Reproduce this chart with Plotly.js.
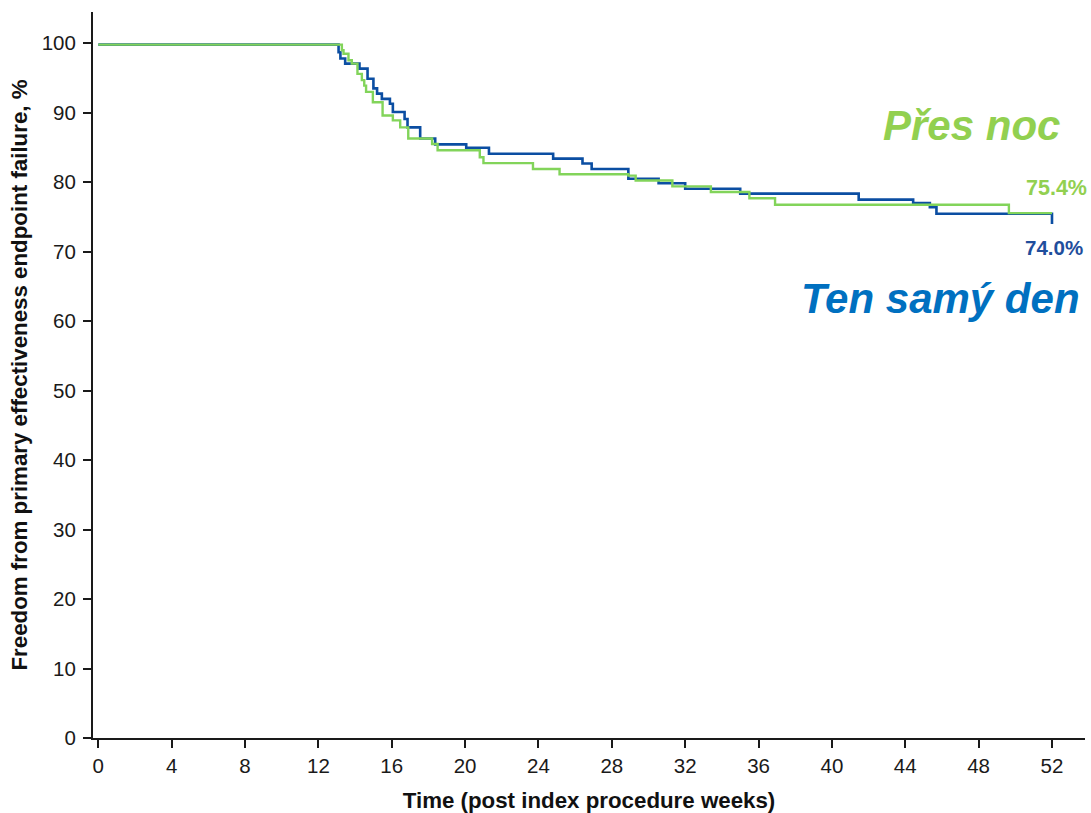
<!DOCTYPE html>
<html>
<head>
<meta charset="utf-8">
<script src="https://cdn.plot.ly/plotly-3.0.1.min.js"></script>
<style>html,body{margin:0;padding:0;background:#fff;}#chart{width:1091px;height:813px;}</style>
</head>
<body>
<div id="chart"></div>
<script>
// Ten samý den (same day) - Kaplan-Meier step points (weeks, %)
const sameDayWeeks = [0, 13.1, 13.2, 13.46, 14.24, 14.68, 15.0, 15.2, 15.46, 15.9, 16.06, 16.7, 16.86, 17.55, 18.37, 20.06, 21.3, 24.8, 26.4, 26.9, 28.9, 30.55, 32.0, 35.0, 41.46, 44.43, 45.34, 45.7, 52];
const sameDayValues = [99.8, 98.7, 97.8, 97.07, 96.35, 94.9, 93.5, 92.75, 92.0, 91.3, 90.1, 89.1, 87.9, 86.3, 85.45, 84.96, 84.1, 83.4, 82.7, 81.9, 80.5, 79.85, 79.06, 78.35, 77.5, 77.0, 76.4, 75.45, 74.0];

// Přes noc (overnight)
const overnightWeeks = [0, 13.28, 13.37, 13.64, 13.82, 14.13, 14.37, 14.5, 14.6, 14.97, 15.5, 16.06, 16.46, 16.9, 18.2, 18.5, 20.8, 21.0, 23.7, 25.15, 28.9, 29.3, 31.3, 33.4, 35.5, 36.9, 49.65, 52];
const overnightValues = [99.8, 99.0, 98.5, 97.55, 97.07, 95.6, 94.7, 93.9, 93.0, 91.5, 89.6, 88.9, 87.9, 86.3, 85.5, 84.6, 83.6, 82.75, 81.9, 81.15, 80.95, 80.25, 79.4, 78.6, 77.7, 76.75, 75.55, 75.55];

const xTicks = [0, 4, 8, 12, 16, 20, 24, 28, 32, 36, 40, 44, 48, 52];
const yTicks = [0, 10, 20, 30, 40, 50, 60, 70, 80, 90, 100];

const labelOvernight = "Přes noc";
const labelSameDay = "Ten samý den";
const finalOvernight = "75.4%";
const finalSameDay = "74.0%";

const FONT = "Liberation Sans, Arial, sans-serif";

const traces = [
  {x: sameDayWeeks, y: sameDayValues, type: 'scatter', mode: 'lines',
   line: {shape: 'hv', color: '#0b4ea2', width: 2.6}, name: labelSameDay, hoverinfo: 'x+y'},
  {x: overnightWeeks, y: overnightValues, type: 'scatter', mode: 'lines',
   line: {shape: 'hv', color: '#82d45a', width: 2.4}, name: labelOvernight, hoverinfo: 'x+y'}
];

const layout = {
  width: 1091, height: 813,
  margin: {l: 93, r: 6, t: 12, b: 75},
  paper_bgcolor: '#fff', plot_bgcolor: '#fff',
  showlegend: false,
  font: {family: FONT, color: '#1a1a1a', size: 20},
  xaxis: {
    range: [-0.29, 53.8], tickvals: xTicks, ticktext: xTicks.map(String),
    ticks: 'outside', ticklen: 8, tickwidth: 2, tickcolor: '#1a1a1a',
    showline: true, linecolor: '#1a1a1a', linewidth: 2,
    showgrid: false, zeroline: false,
    tickfont: {family: FONT, size: 20.5, color: '#1a1a1a'},
    title: {text: 'Time (post index procedure weeks)', font: {family: FONT, size: 22.3, color: '#111', weight: 'bold'}, standoff: 17}
  },
  yaxis: {
    range: [0, 104.5], tickvals: yTicks, ticktext: yTicks.map(String),
    ticks: 'outside', ticklen: 8, tickwidth: 2, tickcolor: '#1a1a1a',
    showline: true, linecolor: '#1a1a1a', linewidth: 2,
    showgrid: false, zeroline: false, ticklabelstandoff: 3,
    tickfont: {family: FONT, size: 20.5, color: '#1a1a1a'},
    title: {text: 'Freedom from primary effectiveness endpoint failure, %', font: {family: FONT, size: 22.3, color: '#111', weight: 'bold'}, standoff: 8}
  },
  annotations: [
    {xref: 'paper', yref: 'paper', x: 0.977, y: 0.844, xanchor: 'right', yanchor: 'middle', showarrow: false,
     text: '<b><i>' + labelOvernight + '</i></b>', font: {family: FONT, size: 42, color: '#92d050'}},
    {xref: 'paper', yref: 'paper', x: 1.004, y: 0.758, xanchor: 'right', yanchor: 'middle', showarrow: false,
     text: '<b>' + finalOvernight + '</b>', font: {family: FONT, size: 21.5, color: '#92d050'}},
    {xref: 'paper', yref: 'paper', x: 1.0, y: 0.676, xanchor: 'right', yanchor: 'middle', showarrow: false,
     text: '<b>' + finalSameDay + '</b>', font: {family: FONT, size: 20.5, color: '#1f4e9c'}},
    {xref: 'paper', yref: 'paper', x: 0.997, y: 0.606, xanchor: 'right', yanchor: 'middle', showarrow: false,
     text: '<b><i>' + labelSameDay + '</i></b>', font: {family: FONT, size: 42, color: '#0070c0'}}
  ]
};

Plotly.newPlot('chart', traces, layout, {displayModeBar: false, staticPlot: true});
</script>
</body>
</html>
